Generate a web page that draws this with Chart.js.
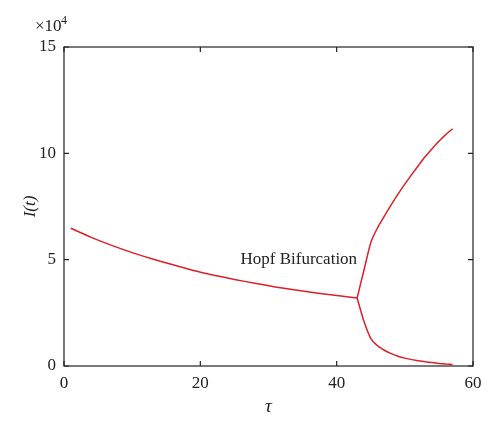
<!DOCTYPE html>
<html>
<head>
<meta charset="utf-8">
<script src="https://cdn.jsdelivr.net/npm/chart.js@4"></script>
<style>
  html, body { margin: 0; padding: 0; background: #fff; }
  #wrap { width: 500px; height: 432px; }
</style>
</head>
<body>
<div id="wrap"><canvas id="hopfChart" width="500" height="432"></canvas></div>
<script>
// tau values and I(t) (in units of 1e4)
const tauMain = [1, 4, 7, 10, 13, 16, 19, 22, 25, 28, 31, 34, 37, 40, 43];
const iMain = [6.48, 6.05, 5.67, 5.33, 5.03, 4.76, 4.49, 4.27, 4.07, 3.89, 3.72, 3.57, 3.43, 3.31, 3.2];

const tauUpper = [43, 44, 45, 46, 47, 48, 49, 50, 51, 52, 53, 54, 55, 56, 57];
const iUpper = [3.2, 4.5, 5.8, 6.5, 7.05, 7.58, 8.08, 8.55, 9.0, 9.43, 9.85, 10.22, 10.57, 10.88, 11.15];

const tauLower = [43, 44, 45, 46, 47, 48, 49, 50, 51, 52, 53, 54, 55, 56, 57];
const iLower = [3.2, 2.1, 1.3, 0.95, 0.74, 0.58, 0.46, 0.37, 0.3, 0.25, 0.2, 0.16, 0.12, 0.09, 0.07];

const xTicks = [0, 20, 40, 60];
const yTicks = [0, 5, 10, 15];

const labelText = 'Hopf Bifurcation';
const labelAt = { tau: 43, value: 5 };

const lineColor = '#dc2029';
const serif = '"Liberation Serif", "DejaVu Serif", serif';

function toPoints(xs, ys) {
  return xs.map((x, i) => ({ x: x, y: ys[i] }));
}

function series(xs, ys) {
  return {
    data: toPoints(xs, ys),
    showLine: true,
    borderColor: lineColor,
    borderWidth: 1.5,
    pointRadius: 0,
    tension: 0.2,
    fill: false
  };
}

// frame, inward ticks, exponent note and annotation
const framePlugin = {
  id: 'frame',
  afterDraw(chart) {
    const ctx = chart.ctx;
    const a = chart.chartArea;
    const xs = chart.scales.x, ys = chart.scales.y;
    ctx.save();
    ctx.strokeStyle = '#222';
    ctx.lineWidth = 1.2;
    ctx.strokeRect(a.left, a.top, a.right - a.left, a.bottom - a.top);
    ctx.beginPath();
    xTicks.forEach(t => {
      const px = xs.getPixelForValue(t);
      ctx.moveTo(px, a.bottom); ctx.lineTo(px, a.bottom - 5);
      ctx.moveTo(px, a.top); ctx.lineTo(px, a.top + 5);
    });
    yTicks.forEach(t => {
      const py = ys.getPixelForValue(t);
      ctx.moveTo(a.left, py); ctx.lineTo(a.left + 5, py);
      ctx.moveTo(a.right, py); ctx.lineTo(a.right - 5, py);
    });
    ctx.stroke();

    ctx.fillStyle = '#222';
    ctx.textBaseline = 'middle';
    ctx.textAlign = 'left';
    ctx.font = '17px ' + serif;
    ctx.fillText('\u00d710', 35, 27);
    ctx.font = '12px ' + serif;
    ctx.fillText('4', 61, 21);

    ctx.font = '17px ' + serif;
    ctx.textAlign = 'right';
    ctx.fillText(labelText, xs.getPixelForValue(labelAt.tau), ys.getPixelForValue(labelAt.value));
    ctx.restore();
  }
};

new Chart(document.getElementById('hopfChart'), {
  type: 'scatter',
  data: {
    datasets: [
      series(tauMain, iMain),
      series(tauUpper, iUpper),
      series(tauLower, iLower)
    ]
  },
  options: {
    responsive: false,
    animation: false,
    layout: { padding: { top: 47, right: 27, left: 0, bottom: 0 } },
    plugins: { legend: { display: false }, tooltip: { enabled: false } },
    scales: {
      x: {
        type: 'linear',
        min: 0,
        max: 60,
        afterBuildTicks: s => { s.ticks = xTicks.map(v => ({ value: v })); },
        afterFit: s => { s.height = 66; },
        grid: { display: false, drawTicks: false },
        border: { display: false },
        ticks: { color: '#222', padding: 7, font: { family: serif, size: 17 } },
        title: {
          display: true,
          text: '\u03c4',
          color: '#222',
          padding: { top: 0, bottom: 14 },
          font: { family: serif, size: 19, style: 'italic' }
        }
      },
      y: {
        type: 'linear',
        min: 0,
        max: 15,
        afterBuildTicks: s => { s.ticks = yTicks.map(v => ({ value: v })); },
        afterFit: s => { s.width = 64; },
        grid: { display: false, drawTicks: false },
        border: { display: false },
        ticks: { color: '#222', padding: 8, font: { family: serif, size: 17 } },
        title: {
          display: true,
          text: 'I(t)',
          color: '#222',
          padding: { top: 20, bottom: 0 },
          font: { family: serif, size: 17, style: 'italic' }
        }
      }
    }
  },
  plugins: [framePlugin]
});
</script>
</body>
</html>
